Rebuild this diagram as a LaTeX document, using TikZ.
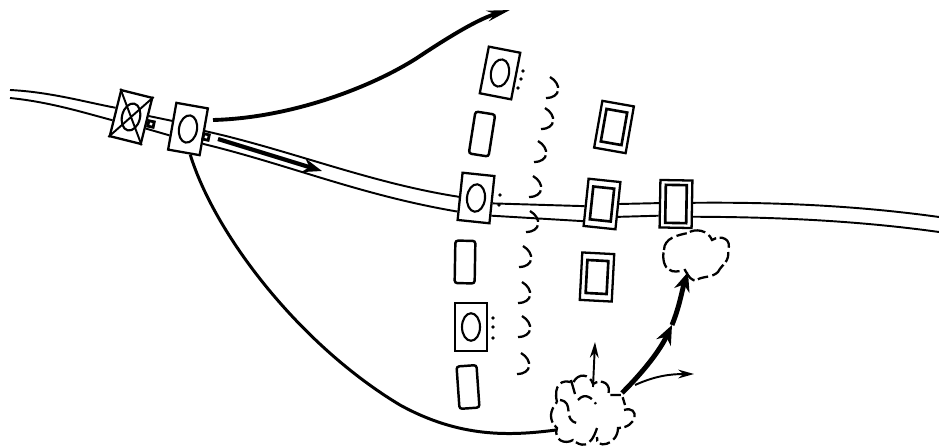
\documentclass[tikz,border=0pt]{standalone}
\usepackage{tikz}
\usetikzlibrary{
    arrows.meta,
    shapes.geometric
}
\tikzset{
    sign/.style={draw, line width=1.3pt, inner sep=0pt, minimum width=.64cm, minimum height=.95cm},
    slim/.style={draw, line width=1.4pt, rounded corners=1.5pt, inner sep=0pt, minimum width=.4cm, minimum height=.85cm},
    inner/.style={draw, line width=1.5pt, inner sep=0pt, minimum width=.42cm, minimum height=.66cm},
    oval/.style={draw, ellipse, line width=1.2pt, inner sep=0pt, minimum width=.36cm, minimum height=.55cm},
    nib/.style={draw, line width=1.6pt, inner sep=0pt, minimum size=.11cm},
    road/.style={line width=1.1pt},
    route/.style={line width=1.7pt},
    heavy/.style={line width=2.8pt, -{Stealth[length=11pt, width=9pt]}},
    thin arrow/.style={line width=1.1pt, -{Stealth[length=9pt, width=5pt]}},
    gap/.style={line width=1.3pt, dash pattern=on 8pt off 2pt on 9pt off 3pt},
    puff/.style={line width=1.3pt, dash pattern=on 9pt off 2.5pt on 6pt off 2pt}
}
\begin{document}
\begin{tikzpicture}[x=.02cm, y=-.02cm]
    \useasboundingbox (0, 0) rectangle (939, 446);
    % signals on the main line
    \node[sign, rotate=-14] (xbox) at (131, 117) {};
    \node[sign, rotate=-10] (first) at (188, 129) {};
    \node[sign, rotate=-6] (second) at (476, 198) {};
    \node[sign, rotate=-6] (third) at (602, 204) {};
    \node[sign, rotate=-1] (fourth) at (676, 204) {};
    \node[inner, rotate=-6] (thirdin) at (third) {};
    \node[inner, rotate=-1, minimum height=.76cm] (fourthin) at (fourth) {};
    \node[oval, rotate=-14] (xoval) at (xbox) {};
    \node[oval, rotate=-10] (firstoval) at (first) {};
    \node[oval, rotate=-6] (secondoval) at (second) {};
    \draw[line width=1.1pt] (xbox.north west) -- (xbox.south east) (xbox.north east) -- (xbox.south west);
    \node[nib, rotate=-12] (nibx) at (151, 124) {};
    \node[nib, rotate=-12] (nibf) at (206, 137) {};
    % signals beside the line
    \node[sign, rotate=-11] (upper) at (500, 73) {};
    \node[oval, rotate=-11] (upperoval) at (upper) {};
    \node[slim, rotate=-9] (slima) at (482, 134) {};
    \node[slim, rotate=-1] (slimb) at (465, 262) {};
    \node[sign] (lower) at (471, 327) {};
    \node[oval] (loweroval) at (lower) {};
    \node[slim, rotate=4] (slimc) at (468, 387) {};
    \node[sign, rotate=-10] (doublea) at (614, 127) {};
    \node[inner, rotate=-10] (doubleain) at (doublea) {};
    \node[sign, rotate=-3] (doubleb) at (597, 277) {};
    \node[inner, rotate=-3] (doublebin) at (doubleb) {};
    % road
    \coordinate (leftup) at (10, 90);
    \coordinate (leftdown) at (10, 98);
    \coordinate (rightup) at (939, 217);
    \coordinate (rightdown) at (939, 232);
    \draw[road] (leftup) .. controls (50, 92) and (85, 102) .. (xbox.163);
    \draw[road] (leftdown) .. controls (50, 102) and (85, 113) .. (xbox.204);
    \draw[road] (xbox.17) -- (first.163);
    \draw[road] (xbox.-24) -- (first.209);
    \draw[road] (first.3) .. controls (290, 150) and (370, 183) .. (second.182);
    \draw[road] (first.-35) .. controls (290, 165) and (360, 195) .. (second.222);
    \draw[road] (second.-12) -- (third.193);
    \draw[road] (second.-43) -- (third.228);
    \draw[road] (third.6) -- (fourth.178);
    \draw[road] (third.-33) -- (fourth.215);
    \draw[road] (fourth.5) .. controls (780, 202) and (860, 206) .. (rightup);
    \draw[road] (fourth.-36) .. controls (780, 217) and (860, 221) .. (rightdown);
    % clouds
    \draw[puff] (557, 402) .. controls (553, 385) and (562, 378) .. (573, 383)
        .. controls (578, 372) and (590, 374) .. (593, 384)
        .. controls (602, 378) and (612, 384) .. (608, 395) -- (622, 395) -- (625, 405)
        (624, 410) .. controls (640, 405) and (638, 428) .. (618, 428)
        .. controls (618, 445) and (595, 450) .. (597, 437)
        (597, 428) .. controls (590, 450) and (580, 446) .. (573, 440)
        .. controls (565, 445) and (553, 440) .. (557, 428)
        .. controls (548, 420) and (550, 410) .. (557, 402);
    \draw[puff] (571, 380) -- (575, 394) (578, 400) .. controls (585, 392) and (592, 398) .. (596, 404)
        (560, 400) .. controls (575, 402) and (562, 420) .. (577, 423);
    \draw[puff] (664, 250) .. controls (664, 238) and (678, 235) .. (688, 233)
        .. controls (695, 228) and (708, 230) .. (712, 240)
        .. controls (722, 234) and (732, 240) .. (728, 250)
        .. controls (730, 262) and (722, 264) .. (718, 272)
        .. controls (712, 278) and (702, 276) .. (697, 280)
        .. controls (692, 282) and (688, 276) .. (685, 270)
        .. controls (678, 272) and (672, 272) .. (670, 270)
        .. controls (664, 268) and (662, 258) .. (664, 250);
    % routes
    \coordinate (farstart) at (213, 120);
    \coordinate (farend) at (510, 10);
    \coordinate (backstart) at (218, 139);
    \coordinate (backend) at (322, 171);
    \coordinate (cloudtop) at (622, 393);
    \coordinate (midway) at (672, 325);
    \coordinate (cloudend) at (688, 272);
    \coordinate (upstart) at (593, 387);
    \coordinate (upend) at (595, 342);
    \coordinate (sidestart) at (635, 385);
    \coordinate (sideend) at (694, 374);
    \coordinate (cloudin) at (556, 430);
    \draw[route, line width=2.2pt, -{Stealth[length=13pt, width=6pt]}] (farstart) .. controls (290, 118) and (370, 88) .. (417, 58) .. controls (450, 36) and (480, 18) .. (farend);
    \draw[route] (first.-75) .. controls (215, 235) and (300, 345) .. (400, 405) .. controls (460, 438) and (510, 436) .. (cloudin);
    \draw[route, line width=2.4pt, -{Stealth[length=11pt, width=8pt]}] (backstart) -- (backend);
    \draw[heavy] (cloudtop) .. controls (645, 370) and (660, 350) .. (midway);
    \draw[heavy] (midway) .. controls (680, 305) and (682, 290) .. (cloudend);
    \draw[thin arrow] (upstart) -- (upend);
    \draw[thin arrow] (sidestart) .. controls (655, 376) and (670, 374) .. (sideend);
    % waiting cars
    \foreach \x/\y in {550/77, 545/108, 538/141, 533/176, 530/211, 523/246, 522/282, 522/316, 521/353} {
        \draw[gap] (\x, \y) .. controls (\x + 12, \y + 7) and (\x + 11, \y + 21) .. (\x - 4, \y + 21);
    }
    % dots
    \foreach \x/\y in {523/71, 521/79, 518/88, 493/318, 493/327, 493/338, 500/195, 499/205} {
        \fill (\x, \y) circle (1.8);
    }
\end{tikzpicture}
\end{document}
